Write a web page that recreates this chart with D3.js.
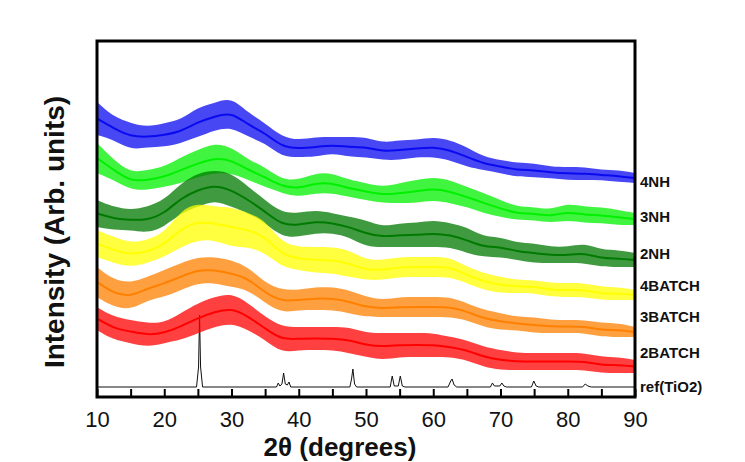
<!DOCTYPE html>
<html>
<head>
<meta charset="utf-8">
<script src="https://cdn.jsdelivr.net/npm/d3@7/dist/d3.min.js"></script>
<style>
body { margin: 0; background: #fff; }
text { font-family: "Liberation Sans", Arial, sans-serif; }
</style>
</head>
<body>
<script>
var twoTheta = [10, 12.5, 15, 17.5, 20, 22.5, 25, 27.5, 30, 32.5, 35, 37.5, 40, 42.5, 45, 47.5,
  50, 52.5, 55, 57.5, 60, 62.5, 65, 67.5, 70, 72.5, 75, 77.5, 80, 82.5, 85, 87.5, 90];

// upper / lower edge of each noisy pattern (arb. units)
var nh4Hi = [295, 280, 274, 270, 274, 277, 290, 294, 300, 284, 274, 260, 257, 260, 260, 260,
  260, 254, 257, 257, 260, 257, 250, 240, 237, 234, 234, 230, 230, 230, 227, 227, 224];
var nh4Lo = [262, 257, 247, 250, 250, 254, 260, 267, 270, 260, 254, 240, 240, 240, 244, 240,
  240, 237, 237, 240, 240, 237, 230, 227, 224, 220, 220, 219, 217, 217, 217, 215, 214];
var nh3Hi = [254, 237, 224, 227, 230, 240, 247, 254, 250, 237, 230, 217, 217, 224, 224, 217,
  214, 210, 214, 217, 220, 217, 210, 204, 197, 190, 190, 187, 194, 190, 190, 187, 184];
var nh3Lo = [224, 217, 207, 207, 210, 214, 220, 224, 224, 217, 210, 204, 200, 204, 204, 200,
  197, 194, 194, 194, 197, 194, 190, 184, 180, 177, 177, 174, 177, 174, 174, 172, 172];
var nh2Hi = [197, 190, 187, 190, 197, 214, 224, 227, 224, 210, 197, 184, 184, 187, 184, 180,
  177, 170, 174, 174, 177, 174, 170, 160, 160, 154, 154, 150, 150, 154, 147, 147, 144];
var nh2Lo = [170, 167, 167, 164, 170, 184, 190, 197, 190, 184, 174, 160, 160, 164, 164, 160,
  150, 150, 150, 150, 150, 150, 144, 140, 140, 137, 134, 134, 134, 134, 130, 130, 130];
var batch4Hi = [167, 160, 154, 157, 164, 187, 194, 190, 190, 184, 177, 154, 150, 150, 150, 147,
  137, 137, 140, 140, 140, 140, 130, 124, 120, 117, 117, 114, 114, 114, 110, 110, 107];
var batch4Lo = [140, 134, 130, 134, 140, 150, 157, 157, 150, 150, 144, 130, 127, 124, 124, 120,
  117, 117, 120, 120, 120, 120, 114, 107, 104, 104, 104, 100, 100, 100, 97, 97, 97];
var batch3Hi = [130, 117, 114, 120, 127, 134, 140, 140, 137, 130, 114, 107, 107, 110, 110, 107,
  100, 97, 100, 100, 100, 100, 94, 87, 84, 80, 80, 77, 77, 77, 74, 74, 70];
var batch3Lo = [100, 90, 87, 97, 100, 107, 114, 114, 110, 107, 94, 84, 87, 87, 87, 84,
  80, 80, 80, 80, 80, 80, 77, 70, 67, 67, 64, 64, 64, 64, 60, 60, 60];
var batch2Hi = [90, 80, 77, 74, 74, 84, 94, 100, 104, 94, 80, 70, 70, 70, 70, 70,
  64, 64, 64, 64, 64, 60, 57, 50, 47, 44, 44, 44, 44, 44, 40, 40, 37];
var batch2Lo = [67, 57, 54, 50, 54, 57, 64, 70, 74, 67, 57, 44, 47, 47, 47, 44,
  40, 37, 40, 40, 40, 40, 37, 30, 27, 27, 27, 27, 27, 27, 24, 24, 24];

// reference anatase pattern: baseline and peak tops
var refTheta = [10, 24.8, 25.1, 25.25, 25.4, 25.7, 36.7, 36.95, 37.2, 37.5, 37.75, 38.0, 38.3, 38.55, 38.8,
  47.6, 47.85, 48.05, 48.3, 48.6, 53.6, 53.9, 54.2, 54.8, 55.1, 55.4, 55.8, 62.2, 62.6, 62.8, 63.1, 63.5,
  68.5, 68.8, 69.1, 69.9, 70.2, 70.5, 70.9, 74.6, 74.95, 75.3, 75.7, 82.2, 82.6, 83.0, 83.5, 90];
var refIntensity = [10, 10, 30, 82, 30, 10, 10, 14, 11, 13, 24, 13, 12, 15, 10,
  10, 18, 28, 13, 10, 10, 21, 11, 11, 21, 11, 10, 10, 16, 18, 12, 10,
  10, 14, 11, 11, 14, 11, 10, 10, 16, 11, 10, 10, 13, 11, 10, 10];

var sampleNames = ["4NH", "3NH", "2NH", "4BATCH", "3BATCH", "2BATCH"];
var sampleColors = ["#0a0af0", "#00f000", "#007a00", "#ffff00", "#ff8000", "#ff0000"];
var xTicks = [10, 15, 20, 25, 30, 35, 40, 45, 50, 55, 60, 65, 70, 75, 80, 85, 90];

var series = [
  {name: sampleNames[0], color: sampleColors[0], hi: nh4Hi, lo: nh4Lo},
  {name: sampleNames[1], color: sampleColors[1], hi: nh3Hi, lo: nh3Lo},
  {name: sampleNames[2], color: sampleColors[2], hi: nh2Hi, lo: nh2Lo},
  {name: sampleNames[3], color: sampleColors[3], hi: batch4Hi, lo: batch4Lo},
  {name: sampleNames[4], color: sampleColors[4], hi: batch3Hi, lo: batch3Lo},
  {name: sampleNames[5], color: sampleColors[5], hi: batch2Hi, lo: batch2Lo}
];

var width = 745;
var height = 462;
// label baselines down the right edge, same order as series, then ref
var labelY = [187, 222, 259, 291, 322, 358, 392];

var svg = d3.select("body")
  .append("svg")
  .attr("width", width)
  .attr("height", height);

svg.append("rect")
  .attr("width", width)
  .attr("height", height)
  .attr("fill", "white");

var x = d3.scaleLinear().domain([10, 90]).range([97, 635]);
var y = d3.scaleLinear().domain([0, 356]).range([397, 41]);

// reference line goes under the samples
var refLine = d3.line()
  .x((d, i) => x(refTheta[i]))
  .y(d => y(d));

svg.append("path")
  .attr("d", refLine(refIntensity))
  .attr("fill", "none")
  .attr("stroke", "#111")
  .attr("stroke-width", 1);

var band = d3.area()
  .curve(d3.curveBasis)
  .x(d => x(d.t))
  .y0(d => y(d.lo))
  .y1(d => y(d.hi));

var mid = d3.line()
  .curve(d3.curveBasis)
  .x(d => x(d.t))
  .y(d => y((d.hi + d.lo) / 2));

series.forEach(function(s, k) {
  var pts = twoTheta.map((t, i) => ({t: t, hi: s.hi[i], lo: s.lo[i]}));
  svg.append("path")
    .attr("d", band(pts))
    .attr("fill", s.color)
    .attr("fill-opacity", 0.75);
  svg.append("path")
    .attr("d", mid(pts))
    .attr("fill", "none")
    .attr("stroke", s.color)
    .attr("stroke-width", 2);
  svg.append("text")
    .attr("x", 640)
    .attr("y", labelY[k])
    .attr("font-size", 15)
    .attr("font-weight", "bold")
    .attr("fill", "#111")
    .text(s.name);
});

svg.append("text")
  .attr("x", 640)
  .attr("y", labelY[6])
  .attr("font-size", 15)
  .attr("font-weight", "bold")
  .attr("fill", "#111")
  .text("ref(TiO2)");

// frame
svg.append("rect")
  .attr("x", 97)
  .attr("y", 41)
  .attr("width", 538)
  .attr("height", 356)
  .attr("fill", "none")
  .attr("stroke", "black")
  .attr("stroke-width", 3);

var xAxis = d3.axisBottom(x)
  .tickValues(xTicks)
  .tickSize(-8)
  .tickPadding(14)
  .tickFormat(d => d % 10 === 0 ? d : "");

var gx = svg.append("g")
  .attr("transform", "translate(0,397)")
  .call(xAxis);
gx.select(".domain").remove();
gx.selectAll(".tick line").attr("stroke", "black").attr("stroke-width", 2);
gx.selectAll(".tick text")
  .attr("font-family", "Liberation Sans, Arial, sans-serif")
  .attr("font-size", 22)
  .attr("fill", "#111");

svg.append("text")
  .attr("x", 340)
  .attr("y", 456)
  .attr("text-anchor", "middle")
  .attr("font-size", 26)
  .attr("font-weight", "bold")
  .attr("fill", "#111")
  .text("2θ (degrees)");

svg.append("text")
  .attr("transform", "translate(64,232) rotate(-90)")
  .attr("text-anchor", "middle")
  .attr("font-size", 28)
  .attr("font-weight", "bold")
  .attr("fill", "#111")
  .text("Intensity (Arb. units)");
</script>
</body>
</html>
